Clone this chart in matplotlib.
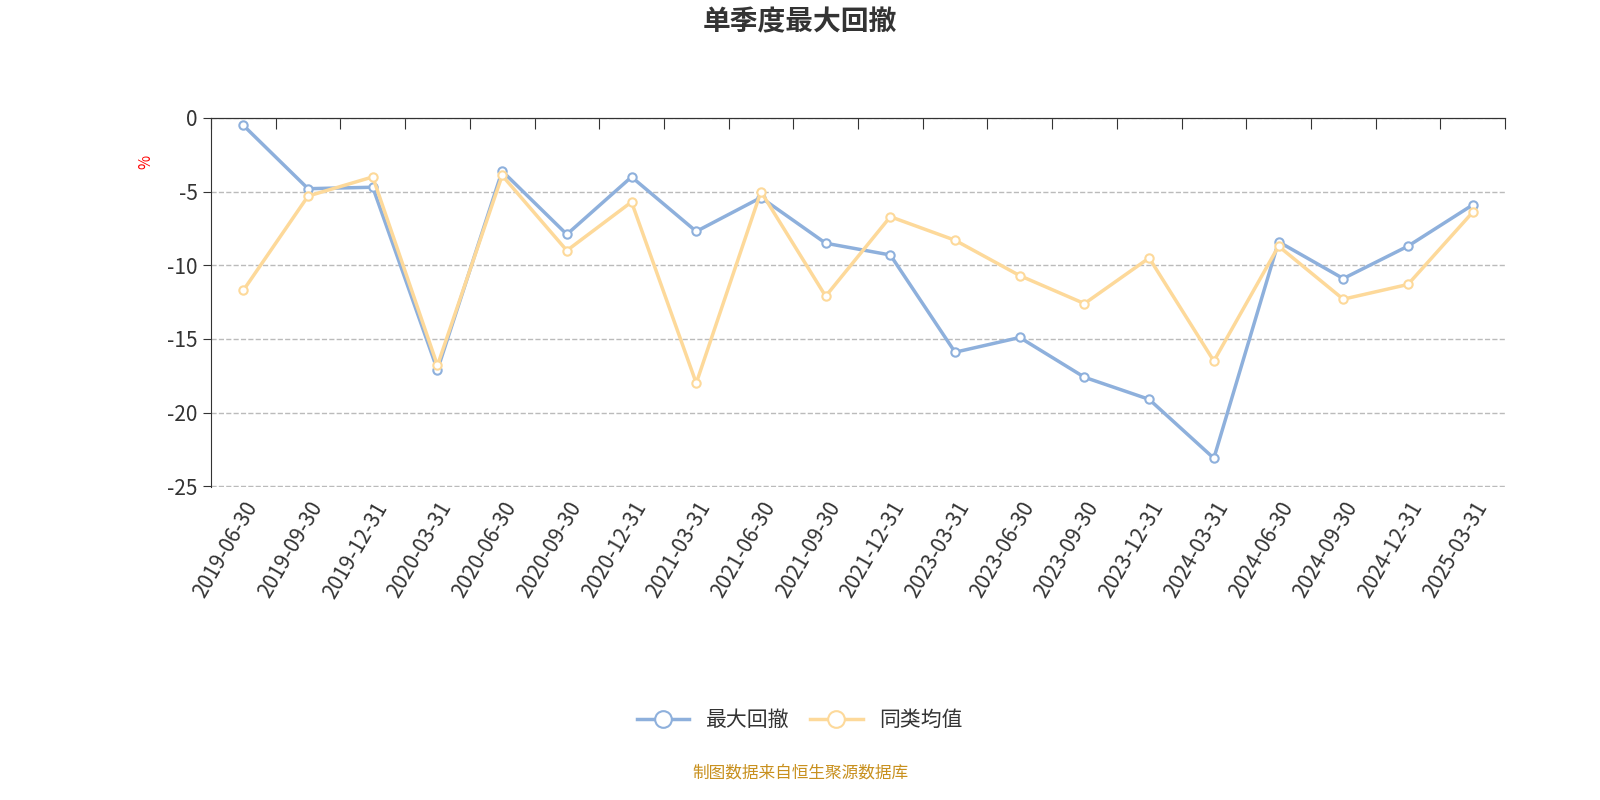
import matplotlib
matplotlib.use("Agg")
import matplotlib.pyplot as plt
from matplotlib import font_manager as fm
import numpy as np

cjk = [f.name for f in fm.fontManager.ttflist if "CJK" in f.name]
pref = [n for n in cjk if "SC" in n] + cjk
plt.rcParams["font.family"] = "sans-serif"
plt.rcParams["font.sans-serif"] = (pref[:1] if pref else []) + ["Noto Sans CJK SC", "Noto Sans CJK JP", "DejaVu Sans"]

categories = ["2019-06-30","2019-09-30","2019-12-31","2020-03-31","2020-06-30","2020-09-30",
              "2020-12-31","2021-03-31","2021-06-30","2021-09-30","2021-12-31","2023-03-31",
              "2023-06-30","2023-09-30","2023-12-31","2024-03-31","2024-06-30","2024-09-30",
              "2024-12-31","2025-03-31"]
max_dd = [-0.5,-4.8,-4.7,-17.1,-3.6,-7.9,-4.0,-7.7,-5.4,-8.5,-9.3,-15.9,-14.9,-17.6,-19.1,-23.1,-8.4,-10.9,-8.7,-5.9]
peer_avg = [-11.7,-5.3,-4.0,-16.8,-3.9,-9.0,-5.7,-18.0,-5.0,-12.1,-6.7,-8.3,-10.7,-12.6,-9.5,-16.5,-8.7,-12.3,-11.3,-6.4]
yticks = [0,-5,-10,-15,-20,-25]

fig = plt.figure(figsize=(16,8), dpi=100)
ax = fig.add_axes([211/1600, 1-487/800, (1505-211)/1600, (487-118)/800])
x = np.arange(len(categories))
blue = "#8eb0dc"; yel = "#fdd99a"
ax.plot(x, max_dd, color=blue, lw=2.5, marker="o", ms=6, mfc="white", mec=blue, mew=1.5, label="最大回撤", zorder=3)
ax.plot(x, peer_avg, color=yel, lw=2.5, marker="o", ms=6, mfc="white", mec=yel, mew=1.5, label="同类均值", zorder=3)
ax.set_xlim(-0.5, len(categories)-0.5)
ax.set_ylim(-25.05, 0)
ax.set_yticks(yticks)
ax.set_yticklabels([str(v) for v in yticks], fontsize=15, color="#333")
ax.yaxis.grid(True, ls="--", color="#bbb", lw=1)
for s in ["right","bottom"]:
    ax.spines[s].set_visible(False)
ax.spines["top"].set_color("#333"); ax.spines["left"].set_color("#333")
ax.tick_params(axis="y", length=6, color="#333")
ax.set_xticks(x)
ax.set_xticklabels(categories, rotation=60, ha="right", rotation_mode="anchor", fontsize=15, color="#333")
ax.tick_params(axis="x", length=0, pad=8)
sec = ax.secondary_xaxis("top")
sec.set_xticks(np.arange(-0.5, len(categories), 1))
sec.set_xticklabels([])
sec.tick_params(direction="in", length=8, color="#333")
sec.spines["top"].set_color("#333")
ax.text(-0.05, 0.88, "%", transform=ax.transAxes, color="red", fontsize=11, rotation=90, ha="center", va="center")
fig.text(0.5, 0.972, "单季度最大回撤", ha="center", va="center", fontsize=20, fontweight="bold", color="#333")
fig.legend(loc="center", bbox_to_anchor=(0.5, 1-720/800), ncol=2, frameon=False, fontsize=15,
           handlelength=2.5, markerscale=2, labelcolor="#333", columnspacing=1.0)
fig.text(0.5, 1-773/800, "制图数据来自恒生聚源数据库", ha="center", va="center", fontsize=12, color="#c8901e")
fig.savefig("out.png")
